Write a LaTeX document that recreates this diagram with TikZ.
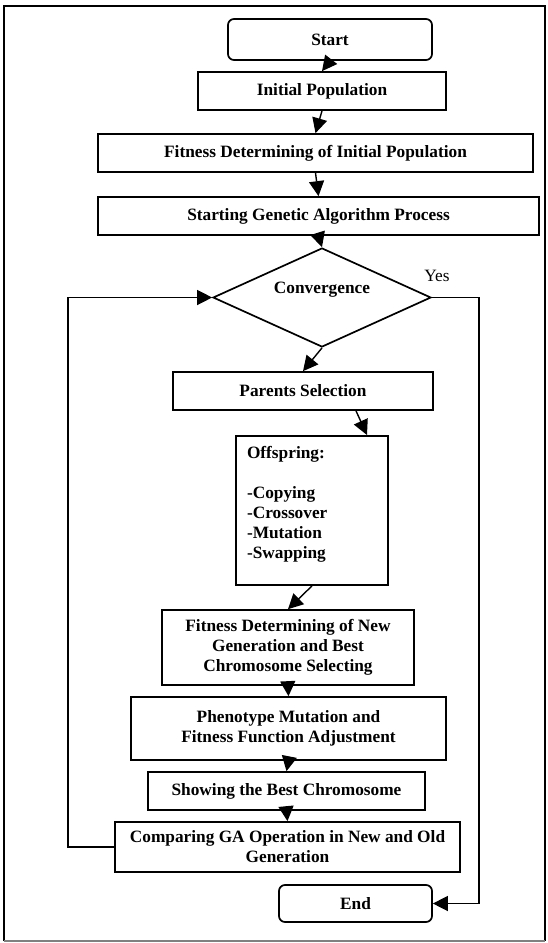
\documentclass[tikz,border=0pt]{standalone}
\usepackage{fontspec}
\setmainfont{Liberation Serif}
\usetikzlibrary{shapes.geometric,arrows.meta}

\tikzset{
  box/.style={draw,line width=1.7pt,inner sep=0pt,align=center,
    font=\fontsize{17.3}{20}\selectfont\bfseries},
  term/.style={box,rounded corners=6pt},
  flow/.style={line width=1.4pt,-{Triangle[length=15pt,width=15pt]}},
}

\begin{document}
\begin{tikzpicture}[x=1pt,y=-1pt]
      \useasboundingbox (0,0) rectangle (547,943);
      \draw[line width=1.4pt] (4,941) -- (4,6) -- (545,6) -- (545,941);
      \draw[gray,line width=1.4pt] (4,941) -- (545,941);

      \node[term,minimum width=204,minimum height=41] (start) at (330,39.5) {Start};
      \node[box,minimum width=248,minimum height=38] (init) at (322,91) {Initial Population};
      \node[box,minimum width=435,minimum height=38] (fitinit) at (315.5,153)
            {Fitness Determining of Initial Population};
      \node[box,minimum width=441,minimum height=38] (startga) at (318.5,216)
            {Starting Genetic Algorithm Process};
      \node[box,diamond,aspect=2.2,minimum width=218,minimum height=99,
            text height=12pt,text depth=20pt] (conv) at (322,297.5) {Convergence};
      \node[font=\fontsize{17.3}{20}\selectfont] (yes) at (437,276) {Yes};
      \node[box,minimum width=260,minimum height=38] (ps) at (303,391) {Parents Selection};
      \node[box,anchor=north,align=left,text width=130,inner xsep=11pt,inner ysep=10pt,
            text depth=117pt] (off) at (312,435)
            {Offspring:\\[20pt]-Copying\\-Crossover\\-Mutation\\-Swapping};
      \node[box,minimum width=252,minimum height=75] (fn) at (288,647.5)
            {Fitness Determining of New\\Generation and Best\\Chromosome Selecting};
      \node[box,minimum width=315,minimum height=63] (pheno) at (288.5,728.5)
            {Phenotype Mutation and\\Fitness Function Adjustment};
      \node[box,minimum width=277,minimum height=38] (best) at (286.5,791)
            {Showing the Best Chromosome};
      \node[box,minimum width=345,minimum height=50] (cmp) at (287.5,847)
            {Comparing GA Operation in New and Old\\Generation};
      \node[term,minimum width=153,minimum height=37] (finish) at (355.5,903.5) {End};

      \coordinate (loopx) at (68,0);
      \coordinate (yesx) at (479,0);

      \draw[flow] (start.south) -- (init.north);
      \draw[flow] (init.south) -- (fitinit.north);
      \draw[flow] (fitinit.south) -- (startga.north);
      \draw[flow] (startga.south) -- (conv.north);
      \draw[flow] (conv.south) -- (ps.north);
      \draw[flow] ([xshift=53pt]ps.south) -- ([xshift=55pt]off.north);
      \draw[flow] (off.south) -- (fn.north);
      \draw[flow] (fn.south) -- (pheno.north);
      \draw[flow] (pheno.south) -- (best.north);
      \draw[flow] (best.south) -- (cmp.north);
      \draw[flow] (cmp.west) -- (cmp.west -| loopx) |- (conv.west);
      \draw[flow] (conv.east) -- (conv.east -| yesx) |- (finish.east);
\end{tikzpicture}
\end{document}
